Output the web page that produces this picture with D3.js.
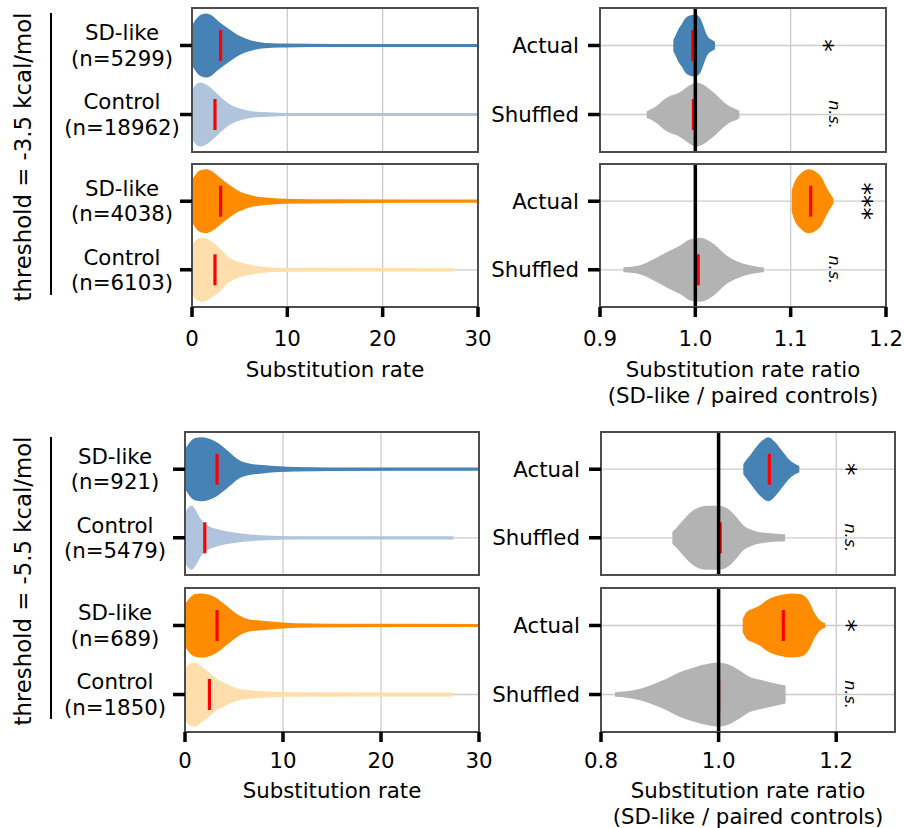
<!DOCTYPE html>
<html>
<head>
<meta charset="utf-8">
<script src="https://cdn.jsdelivr.net/npm/d3@7"></script>
<style>
  body { margin: 0; background: #fff; }
  svg { display: block; }
  text { font-family: "DejaVu Sans", sans-serif; fill: #000; }
</style>
</head>
<body>
<svg id="fig" width="904" height="828"></svg>
<script>
// ---------------- data ----------------
const rateDomain = [0, 30];
const rateTicks = [0, 10, 20, 30];
const ratioDomain35 = [0.9, 1.2];
const ratioTicks35 = [0.9, 1.0, 1.1, 1.2];
const ratioDomain55 = [0.8, 1.3];
const ratioTicks55 = [0.8, 1.0, 1.2];

const thresholdLabels = ["threshold = -3.5 kcal/mol", "threshold = -5.5 kcal/mol"];
const rateTitle = ["Substitution rate"];
const ratioTitle = ["Substitution rate ratio", "(SD-like / paired controls)"];

const rateCats35Blue = ["SD-like\n(n=5299)", "Control\n(n=18962)"];
const rateCats35Orange = ["SD-like\n(n=4038)", "Control\n(n=6103)"];
const rateCats55Blue = ["SD-like\n(n=921)", "Control\n(n=5479)"];
const rateCats55Orange = ["SD-like\n(n=689)", "Control\n(n=1850)"];
const ratioCats = ["Actual", "Shuffled"];

// density profiles: [value, density relative to the violin's peak]
const dens35BlueSD = [[0,0.62],[0.5,0.85],[1.0,0.97],[1.54,1.0],[2.0,0.95],[2.76,0.76],[3.8,0.53],[4.86,0.32],[5.9,0.19],[6.96,0.11],[8.4,0.07],[9.8,0.06],[15,0.05],[31,0.05]];
const dens35BlueCtrl = [[0,0.76],[0.4,0.93],[0.84,1.0],[1.4,0.95],[2.06,0.81],[3.1,0.52],[4.16,0.29],[5.2,0.17],[6.26,0.10],[8.0,0.07],[10,0.05],[31,0.045]];
const dens35OrangeSD = [[0,0.66],[0.5,0.88],[1.0,0.98],[1.54,1.0],[2.0,0.95],[2.76,0.78],[3.8,0.54],[4.86,0.33],[5.9,0.21],[6.96,0.14],[8.4,0.10],[9.8,0.08],[15,0.06],[31,0.05]];
const dens35OrangeCtrl = [[0,0.75],[0.5,0.95],[1.19,1.0],[2.0,0.88],[2.76,0.72],[3.8,0.41],[4.86,0.25],[6.26,0.15],[8.0,0.08],[10,0.06],[27.5,0.05]];
const dens55BlueSD = [[0,0.62],[0.6,0.88],[1.1,0.98],[1.68,1.0],[2.4,0.96],[3.2,0.85],[4.5,0.54],[5.55,0.28],[6.57,0.18],[7.9,0.13],[9.6,0.09],[11.3,0.07],[15,0.055],[31,0.05]];
const dens55BlueCtrl = [[0,0.74],[0.3,0.93],[0.67,1.0],[1.18,0.82],[1.58,0.6],[2.19,0.41],[3.2,0.28],[4.5,0.19],[6.2,0.12],[8.25,0.075],[11,0.05],[27.4,0.05]];
const dens55OrangeSD = [[0,0.66],[0.6,0.9],[1.2,0.99],[1.85,1.0],[2.5,0.96],[3.2,0.86],[4.5,0.55],[5.55,0.31],[6.57,0.19],[7.9,0.15],[9.6,0.10],[11.3,0.07],[15,0.055],[31,0.05]];
const dens55OrangeCtrl = [[0,0.78],[0.4,0.95],[1.0,1.0],[1.6,0.9],[2.2,0.76],[3.2,0.5],[4.2,0.34],[5.55,0.18],[7.2,0.12],[9.6,0.08],[12,0.07],[27.4,0.06]];

const dens35BlueActual = [[0.9769,0.18],[0.9787,0.28],[0.9821,0.50],[0.9857,0.66],[0.9892,0.84],[0.9927,0.92],[0.9997,0.97],[1.0049,0.87],[1.0084,0.62],[1.0119,0.34],[1.0136,0.26],[1.0171,0.18],[1.0206,0.12]];
const dens35BlueShuffled = [[0.949,0.10],[0.9525,0.15],[0.9595,0.27],[0.9665,0.45],[0.9735,0.58],[0.9805,0.65],[0.9875,0.77],[0.9945,0.92],[1.0014,1.0],[1.0084,0.93],[1.0154,0.78],[1.0224,0.60],[1.0294,0.40],[1.0364,0.25],[1.0434,0.16],[1.0462,0.12]];
const dens35OrangeActual = [[1.1011,0.34],[1.1046,0.63],[1.1098,0.84],[1.1185,1.0],[1.1273,0.90],[1.1325,0.74],[1.1378,0.42],[1.143,0.16],[1.1448,0.08]];
const dens35OrangeShuffled = [[0.9245,0.08],[0.935,0.10],[0.945,0.17],[0.956,0.33],[0.970,0.55],[0.984,0.76],[0.994,0.95],[1.005,1.0],[1.019,0.81],[1.033,0.44],[1.047,0.23],[1.061,0.12],[1.072,0.07]];
const dens55BlueActual = [[1.042,0.16],[1.0477,0.30],[1.0562,0.50],[1.0647,0.71],[1.076,0.92],[1.0846,1.0],[1.0959,0.85],[1.1073,0.59],[1.1186,0.33],[1.13,0.16],[1.1373,0.10]];
const dens55BlueShuffled = [[0.9213,0.18],[0.929,0.33],[0.9403,0.56],[0.9517,0.78],[0.9659,0.95],[0.98,1.0],[0.9999,1.0],[1.017,0.89],[1.031,0.63],[1.042,0.39],[1.059,0.23],[1.082,0.15],[1.104,0.12],[1.113,0.11]];
const dens55OrangeActual = [[1.041,0.21],[1.0477,0.42],[1.059,0.53],[1.0704,0.63],[1.0817,0.79],[1.093,0.89],[1.1073,0.96],[1.1243,1.0],[1.1384,0.98],[1.1526,0.79],[1.1639,0.37],[1.1724,0.16],[1.1813,0.07]];
const dens55OrangeShuffled = [[0.8238,0.07],[0.8437,0.10],[0.8664,0.18],[0.889,0.32],[0.9117,0.49],[0.9344,0.70],[0.957,0.84],[0.98,0.95],[0.9995,1.0],[1.0193,0.92],[1.0363,0.74],[1.0533,0.55],[1.076,0.44],[1.0987,0.34],[1.114,0.28]];

// medians drawn as red bars
const med35Blue = [3.0, 2.41];
const med35Orange = [3.0, 2.41];
const med55Blue = [3.27, 2.02];
const med55Orange = [3.27, 2.49];
const med35BlueRatio = [0.9972, 0.998];
const med35OrangeRatio = [1.121, 1.003];
const med55BlueRatio = [1.0863, 1.0027];
const med55OrangeRatio = [1.11, 1.0];

// significance marks (text, position on ratio axis)
const sig35Blue = [["*", 1.1413], ["n.s.", 1.1465]];
const sig35Orange = [["***", 1.1832], ["n.s.", 1.1465]];
const sig55Blue = [["*", 1.2286], ["n.s.", 1.2235]];
const sig55Orange = [["*", 1.2286], ["n.s.", 1.2235]];

// ---------------- drawing ----------------
const BLUE = "#4682b4", LIGHTBLUE = "#b0c4de", ORANGE = "#ff8c00", LIGHTORANGE = "#ffdead", GREY = "#b3b3b3";
const FS = 21.3;
const svg = d3.select("#fig");
let clipId = 0;

function drawPanel(p) {
  const g = svg.append("g");
  const x = d3.scaleLinear().domain(p.domain).range([p.x0, p.x1]);
  const y = d3.scalePoint().domain(p.cats).range([p.y0, p.y1]).padding(0.543);
  const halfW = 32;

  const cid = "clip" + (clipId++);
  svg.append("clipPath").attr("id", cid).append("rect")
    .attr("x", p.x0).attr("y", p.y0).attr("width", p.x1 - p.x0).attr("height", p.y1 - p.y0);

  // grid
  g.selectAll(".gx").data(p.ticks).join("line")
    .attr("x1", d => x(d)).attr("x2", d => x(d)).attr("y1", p.y0).attr("y2", p.y1)
    .attr("stroke", "#cccccc").attr("stroke-width", 1.3);
  g.selectAll(".gy").data(p.cats).join("line")
    .attr("x1", p.x0).attr("x2", p.x1).attr("y1", d => y(d)).attr("y2", d => y(d))
    .attr("stroke", "#cccccc").attr("stroke-width", 1.3);

  const body = g.append("g").attr("clip-path", `url(#${cid})`);
  p.cats.forEach((c, i) => {
    const cy = y(c);
    const area = d3.area()
      .x(d => x(d[0]))
      .y0(d => cy - d[1] * halfW)
      .y1(d => cy + d[1] * halfW)
      .curve(d3.curveMonotoneX);
    body.append("path").attr("d", area(p.dens[i])).attr("fill", p.colors[i]);
  });
  p.cats.forEach((c, i) => {
    const cy = y(c);
    body.append("line")
      .attr("x1", x(p.medians[i])).attr("x2", x(p.medians[i]))
      .attr("y1", cy - 15.5).attr("y2", cy + 15.5)
      .attr("stroke", "#ff0000").attr("stroke-width", 3.2);
  });
  if (p.refLine != null) {
    g.append("line").attr("x1", x(p.refLine)).attr("x2", x(p.refLine))
      .attr("y1", p.y0).attr("y2", p.y1).attr("stroke", "#000").attr("stroke-width", 3.5);
  }

  // frame
  g.append("rect").attr("x", p.x0).attr("y", p.y0).attr("width", p.x1 - p.x0).attr("height", p.y1 - p.y0)
    .attr("fill", "none").attr("stroke", "#4d4d4d").attr("stroke-width", 2);

  // y ticks
  g.selectAll(".yt").data(p.cats).join("line")
    .attr("x1", p.x0 - 12).attr("x2", p.x0).attr("y1", d => y(d)).attr("y2", d => y(d))
    .attr("stroke", "#000").attr("stroke-width", 3.5);
  p.cats.forEach(c => {
    const lines = c.split("\n");
    const t = g.append("text").attr("font-size", FS)
      .attr("text-anchor", p.labelAnchor)
      .attr("x", p.labelX);
    lines.forEach((ln, k) => {
      t.append("tspan").attr("x", p.labelX)
        .attr("y", y(c) + (k - (lines.length - 1) / 2) * 25.5)
        .attr("dominant-baseline", "central").text(ln);
    });
  });

  // significance marks
  if (p.sig) {
    p.sig.forEach((s, i) => {
      const cx = x(s[1]), cy = y(p.cats[i]);
      const isNs = s[0] === "n.s.";
      g.append("text")
        .attr("transform", `translate(${cx},${cy}) rotate(90)`)
        .attr("text-anchor", "middle")
        .attr("dominant-baseline", "central")
        .attr("font-size", isNs ? 16 : 25)
        .attr("font-style", isNs ? "italic" : "normal")
        .attr("dy", isNs ? 0 : "0.24em")
        .attr("fill", "#222")
        .text(s[0]);
    });
  }

  // x axis
  if (p.showX) {
    g.selectAll(".xt").data(p.ticks).join("line")
      .attr("x1", d => x(d)).attr("x2", d => x(d)).attr("y1", p.y1).attr("y2", p.y1 + 10)
      .attr("stroke", "#000").attr("stroke-width", 3.5);
    g.selectAll(".xl").data(p.ticks).join("text")
      .attr("x", d => x(d)).attr("y", p.y1 + p.tickOff)
      .attr("text-anchor", "middle").attr("dominant-baseline", "central")
      .attr("font-size", FS)
      .text(d => p.tickFmt(d));
    p.title.forEach((ln, k) => {
      g.append("text").attr("x", (p.x0 + p.x1) / 2).attr("y", p.y1 + p.titleOff + k * 26)
        .attr("text-anchor", "middle").attr("dominant-baseline", "central")
        .attr("font-size", FS).text(ln);
    });
  }
}

const fmtInt = d3.format("d"), fmt1 = d3.format(".1f");

// threshold -3.5
drawPanel({x0:192, x1:478, y0:8, y1:152, domain:rateDomain, ticks:rateTicks, cats:rateCats35Blue,
  dens:[dens35BlueSD, dens35BlueCtrl], colors:[BLUE, LIGHTBLUE], medians:med35Blue,
  labelX:122, labelAnchor:"middle", showX:false});
drawPanel({x0:192, x1:478, y0:164, y1:307, domain:rateDomain, ticks:rateTicks, cats:rateCats35Orange,
  dens:[dens35OrangeSD, dens35OrangeCtrl], colors:[ORANGE, LIGHTORANGE], medians:med35Orange,
  labelX:122, labelAnchor:"middle", showX:true, tickFmt:fmtInt, title:rateTitle, tickOff:31, titleOff:62});
drawPanel({x0:600, x1:886, y0:8, y1:152, domain:ratioDomain35, ticks:ratioTicks35, cats:ratioCats,
  dens:[dens35BlueActual, dens35BlueShuffled], colors:[BLUE, GREY], medians:med35BlueRatio, refLine:1.0,
  labelX:579, labelAnchor:"end", showX:false, sig:sig35Blue});
drawPanel({x0:600, x1:886, y0:164, y1:307, domain:ratioDomain35, ticks:ratioTicks35, cats:ratioCats,
  dens:[dens35OrangeActual, dens35OrangeShuffled], colors:[ORANGE, GREY], medians:med35OrangeRatio, refLine:1.0,
  labelX:579, labelAnchor:"end", showX:true, tickFmt:fmt1, title:ratioTitle, sig:sig35Orange, tickOff:31, titleOff:62});

// threshold -5.5
drawPanel({x0:185, x1:479, y0:432, y1:575, domain:rateDomain, ticks:rateTicks, cats:rateCats55Blue,
  dens:[dens55BlueSD, dens55BlueCtrl], colors:[BLUE, LIGHTBLUE], medians:med55Blue,
  labelX:115, labelAnchor:"middle", showX:false});
drawPanel({x0:185, x1:479, y0:588, y1:732, domain:rateDomain, ticks:rateTicks, cats:rateCats55Orange,
  dens:[dens55OrangeSD, dens55OrangeCtrl], colors:[ORANGE, LIGHTORANGE], medians:med55Orange,
  labelX:115, labelAnchor:"middle", showX:true, tickFmt:fmtInt, title:rateTitle, tickOff:28, titleOff:58});
drawPanel({x0:601, x1:895, y0:432, y1:575, domain:ratioDomain55, ticks:ratioTicks55, cats:ratioCats,
  dens:[dens55BlueActual, dens55BlueShuffled], colors:[BLUE, GREY], medians:med55BlueRatio, refLine:1.0,
  labelX:580, labelAnchor:"end", showX:false, sig:sig55Blue});
drawPanel({x0:601, x1:895, y0:588, y1:732, domain:ratioDomain55, ticks:ratioTicks55, cats:ratioCats,
  dens:[dens55OrangeActual, dens55OrangeShuffled], colors:[ORANGE, GREY], medians:med55OrangeRatio, refLine:1.0,
  labelX:580, labelAnchor:"end", showX:true, tickFmt:fmt1, title:ratioTitle, sig:sig55Orange, tickOff:28, titleOff:58});

// threshold group labels with bracket bars
const groups = [{label: thresholdLabels[0], y0: 13, y1: 295}, {label: thresholdLabels[1], y0: 437, y1: 719}];
groups.forEach(gr => {
  svg.append("line").attr("x1", 51).attr("x2", 51).attr("y1", gr.y0).attr("y2", gr.y1)
    .attr("stroke", "#000").attr("stroke-width", 2);
  svg.append("text")
    .attr("transform", `translate(23,${(gr.y0 + gr.y1) / 2 + 3}) rotate(-90)`)
    .attr("text-anchor", "middle").attr("dominant-baseline", "central")
    .attr("font-family", "'Liberation Sans', Arial, sans-serif")
    .attr("font-size", 22.8).text(gr.label);
});
</script>
</body>
</html>
